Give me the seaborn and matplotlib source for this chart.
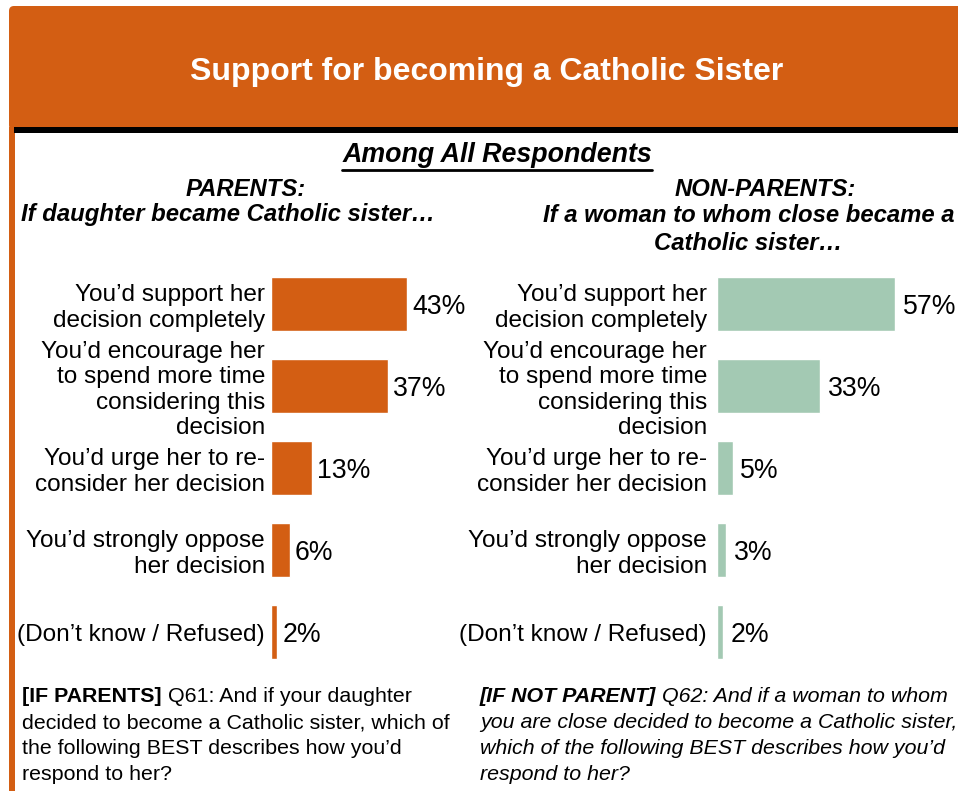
import matplotlib
matplotlib.use("Agg")
import matplotlib.pyplot as plt
import seaborn as sns
import pandas as pd
from matplotlib.patches import FancyBboxPatch, Rectangle
from matplotlib.lines import Line2D

sns.set_theme(style="white")
plt.rcParams['font.family'] = ['Liberation Sans', 'DejaVu Sans']
plt.rcParams['text.color'] = 'black'
plt.rcParams['axes.labelcolor'] = 'black'
plt.rcParams['xtick.color'] = 'black'
plt.rcParams['ytick.color'] = 'black'

# ---- data ----
title = "Support for becoming a Catholic Sister"
subtitle = "Among All Respondents"
parent_head = ["PARENTS:", "If daughter became Catholic sister…"]
nonparent_head = ["NON-PARENTS:", "If a woman to whom close became a", "Catholic sister…"]
parent_labels = ["You’d support her\ndecision completely",
                 "You’d encourage her\nto spend more time\nconsidering this\ndecision",
                 "You’d urge her to re-\nconsider her decision",
                 "You’d strongly oppose\nher decision",
                 "(Don’t know / Refused)"]
parent_values = [43, 37, 13, 6, 2]
nonparent_labels = parent_labels
nonparent_values = [57, 33, 5, 3, 2]
note_left_bold = "[IF PARENTS]"
note_left = [" Q61: And if your daughter",
             "decided to become a Catholic sister, which of",
             "the following BEST describes how you’d",
             "respond to her?"]
note_right_bold = "[IF NOT PARENT]"
note_right = [" Q62: And if a woman to whom",
              "you are close decided to become a Catholic sister,",
              "which of the following BEST describes how you’d",
              "respond to her?"]

ORANGE = "#D35E13"
GREEN = "#A3C9B3"

W, H = 958, 791
fig = plt.figure(figsize=(W / 100, H / 100), dpi=100)
bg = fig.add_axes([0, 0, 1, 1], zorder=0)
bg.set_xlim(0, W)
bg.set_ylim(H, 0)
bg.axis('off')

# header
bg.add_patch(FancyBboxPatch((9, 6), 980, 124, boxstyle="round,pad=0,rounding_size=5",
                            facecolor=ORANGE, edgecolor='none'))
bg.add_patch(Rectangle((9, 127), 6, 700, facecolor=ORANGE, edgecolor='none'))
bg.add_patch(Rectangle((14, 127), 960, 6, facecolor='black', edgecolor='none'))
bg.text(487, 72, title, color='white', fontsize=23, fontweight='bold', ha='center', va='center')

sub = bg.text(497, 155, subtitle, fontsize=19.3, fontweight='bold', style='italic',
              ha='center', va='center', color='black')

hs = 17.2
bg.text(246, 189, parent_head[0], fontsize=hs, fontweight='bold', style='italic', ha='center', va='center')
bg.text(228, 215, parent_head[1], fontsize=hs, fontweight='bold', style='italic', ha='center', va='center')
bg.text(765, 189, nonparent_head[0], fontsize=hs, fontweight='bold', style='italic', ha='center', va='center')
bg.text(543, 216, nonparent_head[1], fontsize=hs, fontweight='bold', style='italic', ha='left', va='center')
bg.text(748, 243, nonparent_head[2], fontsize=hs, fontweight='bold', style='italic', ha='center', va='center')

# bars
top_px, bot_px = 263, 673
ax_b = 1 - bot_px / H
ax_h = (bot_px - top_px) / H


def draw(left_px, scale, labels, values, color, tick_pad, lab_pad):
    ax = fig.add_axes([left_px / W, ax_b, 100 * scale / W, ax_h], zorder=2)
    ax.patch.set_alpha(0)
    df = pd.DataFrame({"label": labels, "value": values})
    sns.barplot(data=df, x="value", y="label", orient="h", color=color,
                saturation=1, width=0.66, ax=ax)
    ax.set_xlim(0, 100)
    ax.set_ylim(4.5, -0.5)
    ax.set_xlabel("")
    ax.set_ylabel("")
    ax.set_xticks([])
    for s in ax.spines.values():
        s.set_visible(False)
    ax.tick_params(axis='y', length=0, pad=tick_pad, labelsize=17.6, colors='black')
    anns = ax.bar_label(ax.containers[0], labels=[f"{v}%" for v in values], padding=lab_pad,
                        fontsize=19.2, color='black')
    for a in anns:
        a.xyann = (lab_pad, -2)
    return ax


draw(271, 3.16, parent_labels, parent_values, ORANGE, 4.3, 3.6)
draw(717, 3.12, nonparent_labels, nonparent_values, GREEN, 7.2, 5.5)

# notes
ns = 15.4
fig.canvas.draw()
r = fig.canvas.get_renderer()
lh = 26
t = bg.text(22, 697, note_left_bold, fontsize=ns, fontweight='bold', ha='left', va='center')
bb = t.get_window_extent(r)
bg.text(bb.x1, 697, note_left[0], fontsize=ns, ha='left', va='center')
for i, line in enumerate(note_left[1:], 1):
    bg.text(22, 697 + i * lh, line, fontsize=ns, ha='left', va='center')

t = bg.text(480, 697, note_right_bold, fontsize=ns, fontweight='bold', style='italic', ha='left', va='center')
bb = t.get_window_extent(r)
bg.text(bb.x1, 697, note_right[0], fontsize=ns, style='italic', ha='left', va='center')
for i, line in enumerate(note_right[1:], 1):
    bg.text(480, 697 + i * lh, line, fontsize=ns, style='italic', ha='left', va='center')

# underline subtitle
bb = sub.get_window_extent(r)
bg.add_line(Line2D([bb.x0, bb.x1], [H - bb.y0 + 1.5, H - bb.y0 + 1.5], color='black', lw=2))

fig.savefig("out.png", dpi=100)
